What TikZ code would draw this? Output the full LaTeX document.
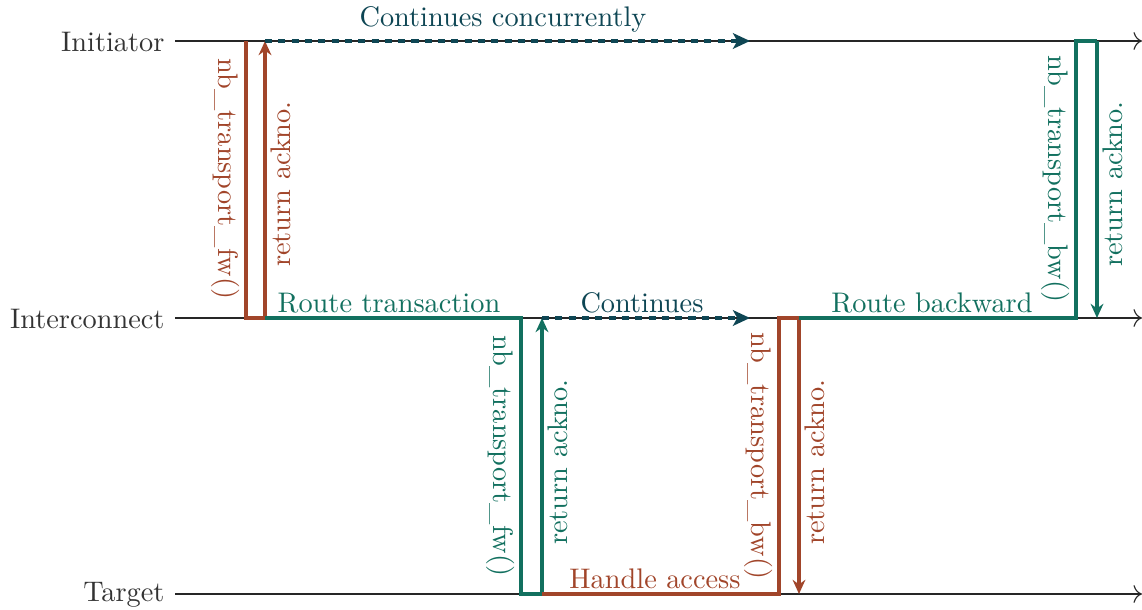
\documentclass[tikz,border=0pt]{standalone}
\usetikzlibrary{arrows.meta}
\definecolor{rust}{HTML}{A1452A}
\definecolor{tealc}{HTML}{12705F}
\definecolor{darkc}{HTML}{0E4654}
\begin{document}
\begin{tikzpicture}[x=0.353pt,y=-0.353pt,
  axis/.style={draw=black!85, line width=0.4pt, -{To[length=3pt]}},
  lane/.style={anchor=east, text=black!80, inner sep=0pt},
  rustline/.style={draw=rust, line width=1.15pt},
  tealline/.style={draw=tealc, line width=1.15pt},
  retarrow/.style={-{Stealth[length=5pt,width=4.5pt]}},
  cont/.style={draw=darkc, line width=1.15pt, dash pattern=on 2.5pt off 2.2pt, -{Stealth[length=6pt,width=5.5pt,inset=1.5pt]}},
  vlabl/.style={rotate=-90, anchor=north, inner sep=2pt},
  vlabr/.style={rotate=90, anchor=north, inner sep=2pt},
  hlab/.style={anchor=south, inner sep=1.5pt},
]
\useasboundingbox (0,0) rectangle (1142,610);
% lanes
\node[lane] (ini) at (165,42) {Initiator};
\node[lane] (icn) at (165,319) {Interconnect};
\node[lane] (tgt) at (165,595) {Target};
\coordinate (iniS) at (175,41);  \coordinate (iniE) at (1142,41);
\coordinate (icnS) at (175,318); \coordinate (icnE) at (1142,318);
\coordinate (tgtS) at (175,594); \coordinate (tgtE) at (1142,594);
\draw[axis] (iniS) -- (iniE);
\draw[axis] (icnS) -- (icnE);
\draw[axis] (tgtS) -- (tgtE);
% points
\coordinate (a1) at (246,41);  \coordinate (a2) at (246,318);
\coordinate (a3) at (265,318); \coordinate (a4) at (265,41);
\coordinate (b1) at (521,318); \coordinate (b2) at (521,594);
\coordinate (b3) at (542,594); \coordinate (b4) at (542,318);
\coordinate (c1) at (779,594); \coordinate (c2) at (779,318);
\coordinate (c3) at (799,318); \coordinate (c4) at (799,594);
\coordinate (d1) at (1076,318); \coordinate (d2) at (1076,41);
\coordinate (d3) at (1097,41); \coordinate (d4) at (1097,318);
\coordinate (e1) at (750,41); \coordinate (e2) at (750,318);
% initiator fw call
\draw[rustline] (a1) -- (a2) -- (a3);
\draw[rustline, retarrow] (a3) -- (a4);
% interconnect routes
\draw[tealline] (a3) -- (b1) -- (b2) -- (b3);
\draw[tealline, retarrow] (b3) -- (b4);
% target handles
\draw[rustline] (b3) -- (c1) -- (c2) -- (c3);
\draw[rustline, retarrow] (c3) -- (c4);
% route backward
\draw[tealline] (c3) -- (d1) -- (d2) -- (d3);
\draw[tealline, retarrow] (d3) -- (d4);
% continues
\draw[cont] (a4) -- (e1);
\draw[cont] (b4) -- (e2);
% labels
\node[vlabl, text=rust] (l1) at (246,179) {nb\_transport\_fw()};
\node[vlabr, text=rust] (l2) at (265,184) {return ackno.};
\node[vlabl, text=tealc] (l3) at (521,456) {nb\_transport\_fw()};
\node[vlabr, text=tealc] (l4) at (542,462) {return ackno.};
\node[vlabl, text=rust] (l5) at (779,456) {nb\_transport\_bw()};
\node[vlabr, text=rust] (l6) at (799,462) {return ackno.};
\node[vlabl, text=tealc] (l7) at (1076,179) {nb\_transport\_bw()};
\node[vlabr, text=tealc] (l8) at (1097,184) {return ackno.};
\node[hlab, text=darkc, inner sep=3pt] (h1) at (503,41) {Continues concurrently};
\node[hlab, text=tealc] (h2) at (389,318) {Route transaction};
\node[hlab, text=darkc] (h3) at (642,318) {Continues};
\node[hlab, text=tealc] (h4) at (932,318) {Route backward};
\node[hlab, text=rust] (h5) at (655,594) {Handle access};
\end{tikzpicture}
\end{document}
